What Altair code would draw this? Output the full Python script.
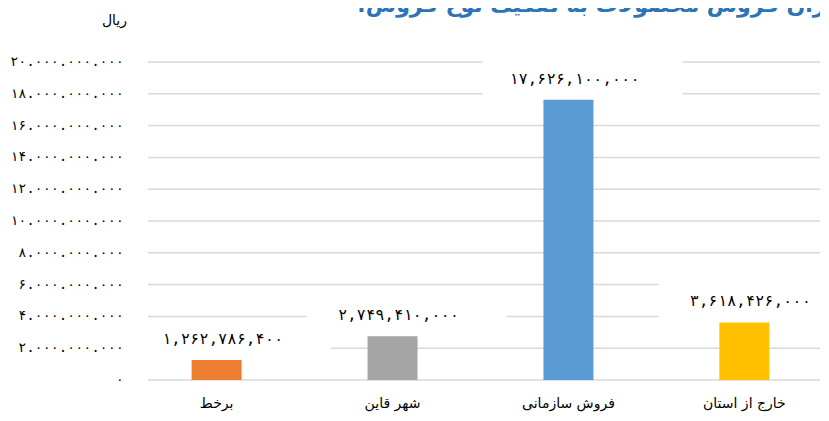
import altair as alt
import pandas as pd

title_text = "میزان فروش محصولات به تفکیک نوع فروش:\u200f"
unit_text = "ریال"
categories = ["برخط", "شهر قاین", "فروش سازمانی", "خارج از استان"]
values = [1262786400, 2749410000, 17626100000, 3618426000]
value_labels = ["۱,۲۶۲,۷۸۶,۴۰۰", "۲,۷۴۹,۴۱۰,۰۰۰", "۱۷,۶۲۶,۱۰۰,۰۰۰", "۳,۶۱۸,۴۲۶,۰۰۰"]
colors = ["#ED7D31", "#A5A5A5", "#5B9BD5", "#FFC000"]
tick_values = [0, 2e9, 4e9, 6e9, 8e9, 10e9, 12e9, 14e9, 16e9, 18e9, 20e9]
tick_labels = ["۰", "۲.۰۰۰.۰۰۰.۰۰۰", "۴.۰۰۰.۰۰۰.۰۰۰", "۶.۰۰۰.۰۰۰.۰۰۰", "۸.۰۰۰.۰۰۰.۰۰۰",
               "۱۰.۰۰۰.۰۰۰.۰۰۰", "۱۲.۰۰۰.۰۰۰.۰۰۰", "۱۴.۰۰۰.۰۰۰.۰۰۰", "۱۶.۰۰۰.۰۰۰.۰۰۰",
               "۱۸.۰۰۰.۰۰۰.۰۰۰", "۲۰.۰۰۰.۰۰۰.۰۰۰"]

FONT = "DejaVu Sans"
NUMFONT = "DejaVu Sans Mono"

bars_df = pd.DataFrame({"cat": categories, "val": values, "lab": value_labels})
ticks_df = pd.DataFrame({"v": tick_values, "lab": tick_labels})

xs = alt.X("cat:N", sort=categories, axis=None,
           scale=alt.Scale(paddingInner=0.14, paddingOuter=0))
ys = alt.Scale(domain=[0, 2e10], nice=False, zero=True)

grid = alt.Chart(ticks_df).mark_rule(color="#D9D9D9", strokeWidth=1.5).encode(
    y=alt.Y("v:Q", scale=ys, axis=None),
    x=alt.value(7), x2=alt.value(679),
)
tick_text = alt.Chart(ticks_df).mark_text(
    align="right", baseline="middle", font=NUMFONT, fontSize=13.5, color="#000000"
).encode(
    y=alt.Y("v:Q", scale=ys, axis=None),
    x=alt.value(-17),
    text="lab:N",
)

box = alt.Chart(bars_df).mark_point(
    shape="M-1,-0.2L1,-0.2L1,0.2L-1,0.2Z", size=40000, filled=True,
    fill="#FFFFFF", opacity=1, strokeWidth=0, xOffset=14, yOffset=-20
).encode(x=xs, y=alt.Y("val:Q", scale=ys, axis=None))

bars = alt.Chart(bars_df).mark_bar(width=50).encode(
    x=xs,
    y=alt.Y("val:Q", scale=ys, axis=None),
    color=alt.Color("cat:N", scale=alt.Scale(domain=categories, range=colors), legend=None),
)

val_text = alt.Chart(bars_df).mark_text(
    align="center", baseline="middle", font=NUMFONT, fontSize=15.5, color="#000000", dx=6, dy=-21
).encode(x=xs, y=alt.Y("val:Q", scale=ys, axis=None), text="lab:N")

cat_text = alt.Chart(bars_df).mark_text(
    align="center", baseline="middle", font=FONT, fontSize=14, color="#000000"
).encode(x=xs, y=alt.value(342), text="cat:N")

title = alt.Chart(pd.DataFrame({"t": [title_text]})).mark_text(
    align="left", baseline="alphabetic", font=FONT, fontSize=22, fontWeight="bold", color="#2E74B5"
).encode(x=alt.value(216), y=alt.value(-50), text="t:N")

unit = alt.Chart(pd.DataFrame({"t": [unit_text]})).mark_text(
    align="right", baseline="middle", font=FONT, fontSize=14, color="#000000"
).encode(x=alt.value(-14), y=alt.value(-41), text="t:N")

chart = alt.layer(grid, tick_text, box, bars, val_text, cat_text, title, unit).properties(
    width=679, height=318,
    padding={"left": 133, "top": 54, "right": 0, "bottom": 33},
    autosize=alt.AutoSizeParams(type="none"),
    background="#FFFFFF",
).configure_view(stroke=None)

chart.save("out.html", embed_options={"renderer": "svg", "actions": False})
